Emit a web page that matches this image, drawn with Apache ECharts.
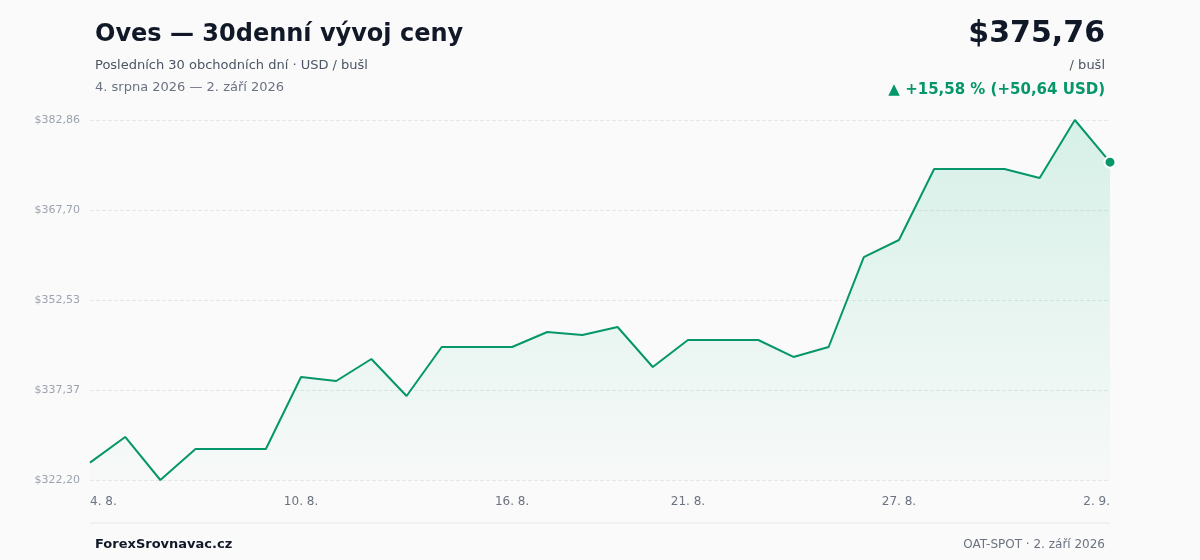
<!DOCTYPE html>
<html><head><meta charset="utf-8">
<script src="https://cdn.jsdelivr.net/npm/echarts@6/dist/echarts.min.js"></script>
<style>html,body{margin:0;background:#fafafa}#c{width:1200px;height:560px}</style>
</head><body><div id="c"></div>
<script>
const dates = ["4. 8.","5. 8.","6. 8.","7. 8.","8. 8.","9. 8.","10. 8.","11. 8.","12. 8.","13. 8.","14. 8.","15. 8.","16. 8.","17. 8.","18. 8.","19. 8.","20. 8.","21. 8.","22. 8.","23. 8.","24. 8.","25. 8.","26. 8.","27. 8.","28. 8.","29. 8.","30. 8.","31. 8.","1. 9.","2. 9."];
const prices = [325.12,329.45,322.20,327.42,327.42,327.42,339.56,338.88,342.59,336.35,344.61,344.61,344.61,347.14,346.63,347.98,341.24,345.79,345.79,345.79,342.93,344.61,359.77,362.64,374.60,374.60,374.60,373.09,382.86,375.76];
const shownLabels = [0,6,12,17,23,29];
const yTicks = [322.20,337.37,352.53,367.70,382.86];
const font = "DejaVu Sans";
const chart = echarts.init(document.getElementById('c'));
const last = prices.length-1;
chart.setOption({
  backgroundColor:'#fafafa',
  textStyle:{fontFamily:font},
  grid:{left:90,right:90,top:120,bottom:80},
  title:[
    {text:'Oves — 30denní vývoj ceny',left:90,top:18,textStyle:{fontFamily:font,fontSize:24,fontWeight:'bold',color:'#111827'}},
    {text:'Posledních 30 obchodních dní · USD / bušl',left:90,top:54,textStyle:{fontFamily:font,fontSize:13,fontWeight:'normal',color:'#4b5563'}},
    {text:'4. srpna 2026 — 2. září 2026',left:90,top:76,textStyle:{fontFamily:font,fontSize:13,fontWeight:'normal',color:'#6b7280'}},
    {text:'$375,76',right:90,top:14,textStyle:{fontFamily:font,fontSize:30,fontWeight:'bold',color:'#111827'}},
    {text:'/ bušl',right:90,top:54,textStyle:{fontFamily:font,fontSize:13,fontWeight:'normal',color:'#4b5563'}},
    {text:'▲ +15,58 % (+50,64 USD)',right:90,top:78,textStyle:{fontFamily:font,fontSize:15,fontWeight:'bold',color:'#059669'}},
    {text:'ForexSrovnavac.cz',left:90,top:533,textStyle:{fontFamily:font,fontSize:13,fontWeight:'bold',color:'#111827'}},
    {text:'OAT-SPOT · 2. září 2026',right:90,top:534,textStyle:{fontFamily:font,fontSize:12,fontWeight:'normal',color:'#6b7280'}}
  ],
  graphic:[{type:'line',shape:{x1:90,y1:523,x2:1110,y2:523},style:{stroke:'#e5e7eb',lineWidth:1}}],
  xAxis:{type:'category',data:dates,boundaryGap:false,
    axisLine:{show:false},axisTick:{show:false},
    axisLabel:{interval:(i)=>shownLabels.includes(i),color:'#6b7280',fontSize:12,margin:16,alignMinLabel:'left',alignMaxLabel:'right'}},
  yAxis:{type:'value',min:yTicks[0],max:yTicks[yTicks.length-1],interval:(yTicks[4]-yTicks[0])/4,
    axisLabel:{formatter:v=>'$'+v.toFixed(2).replace('.',','),color:'#9ca3af',fontSize:11,margin:10},
    splitLine:{lineStyle:{color:'#e5e7eb',type:'dashed'}}},
  series:[{type:'line',data:prices,symbol:'circle',symbolSize:(v,p)=>p.dataIndex===last?11:0,showSymbol:true,
    itemStyle:{color:'#059669',borderColor:'#fff',borderWidth:2},
    lineStyle:{color:'#059669',width:2},
    areaStyle:{color:new echarts.graphic.LinearGradient(0,0,0,1,[{offset:0,color:'rgba(16,185,129,0.22)'},{offset:1,color:'rgba(16,185,129,0.02)'}])},
    animation:false}]
});
</script></body></html>
